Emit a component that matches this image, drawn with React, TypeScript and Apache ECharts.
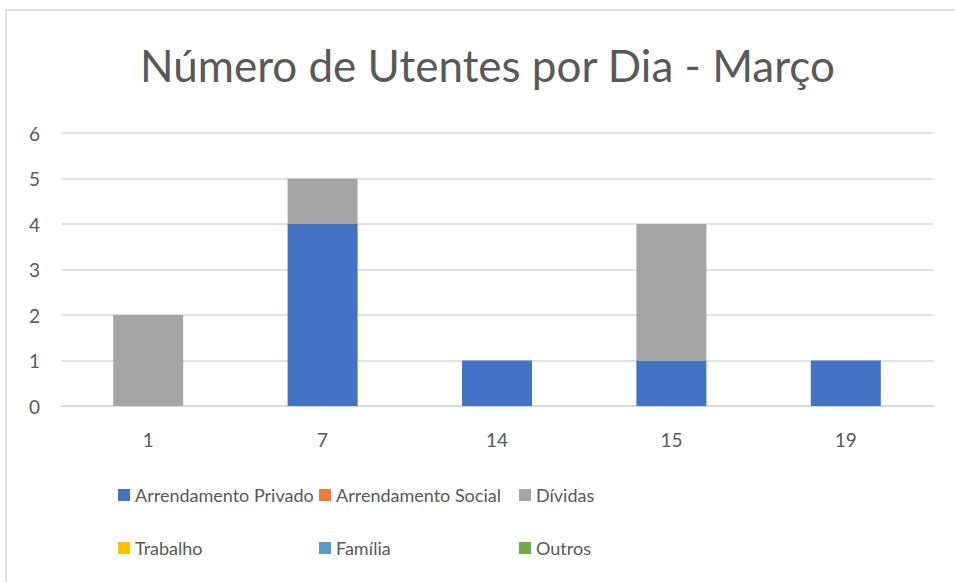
import React, { useEffect, useRef } from "react";
import * as echarts from "echarts";

const categories = ["1", "7", "14", "15", "19"];
const seriesNames = ["Arrendamento Privado", "Arrendamento Social", "Dívidas", "Trabalho", "Família", "Outros"];
const arrendamentoPrivado = [0, 4, 1, 1, 1];
const arrendamentoSocial = [0, 0, 0, 0, 0];
const dividas = [2, 1, 0, 3, 0];
const trabalho = [0, 0, 0, 0, 0];
const familia = [0, 0, 0, 0, 0];
const outros = [0, 0, 0, 0, 0];
const colors = ["#4472C4", "#ED7D31", "#A5A5A5", "#FFC000", "#5B9BD5", "#70AD47"];
const legendPos = [
  [118, 486], [319, 486], [519, 486],
  [118, 539], [319, 539], [519, 539],
];

const FONT = "Lato, 'Open Sans', sans-serif";
const TXT = "#595959";

export default function App() {
  const ref = useRef<HTMLDivElement>(null);
  useEffect(() => {
    document.body.style.margin = "0";
    const chart = echarts.init(ref.current!, null, { renderer: "svg" });
    const values = [arrendamentoPrivado, arrendamentoSocial, dividas, trabalho, familia, outros];
    chart.setOption({
      animation: false,
      color: colors,
      title: {
        text: "Número de Utentes por Dia - Março",
        left: 140,
        top: 43,
        padding: 0,
        textStyle: { fontFamily: FONT, fontSize: 44, fontWeight: "normal", color: TXT },
      },
      graphic: [
        {
          type: "rect",
          shape: { x: 6, y: 10, width: 1000, height: 1000 },
          style: { fill: "none", stroke: "#D9D9D9", lineWidth: 1.5 },
          silent: true,
        },
      ],
      legend: seriesNames.map((n, i) => ({
        data: [n],
        left: legendPos[i][0],
        top: legendPos[i][1],
        padding: 0,
        itemWidth: 12,
        itemHeight: 12,
        itemGap: 5,
        icon: "rect",
        textStyle: { fontFamily: FONT, fontSize: 18, color: TXT },
      })),
      grid: { left: 61, right: 22, top: 133, bottom: 176 },
      xAxis: {
        type: "category",
        data: categories,
        axisLine: { lineStyle: { color: "#D9D9D9", width: 1.5 } },
        axisTick: { show: false },
        axisLabel: { fontFamily: FONT, fontSize: 19, color: TXT, margin: 24 },
      },
      yAxis: {
        type: "value",
        min: 0,
        max: 6,
        interval: 1,
        axisLine: { show: false },
        axisTick: { show: false },
        splitLine: { lineStyle: { color: "#D9D9D9", width: 1.5 } },
        axisLabel: { fontFamily: FONT, fontSize: 19, color: TXT, margin: 21 },
      },
      series: seriesNames.map((n, i) => ({
        name: n,
        type: "bar",
        stack: "total",
        barWidth: 70,
        data: values[i],
        itemStyle: { color: colors[i] },
      })),
    });
    return () => chart.dispose();
  }, []);
  return <div ref={ref} style={{ width: 955, height: 582 }} />;
}
